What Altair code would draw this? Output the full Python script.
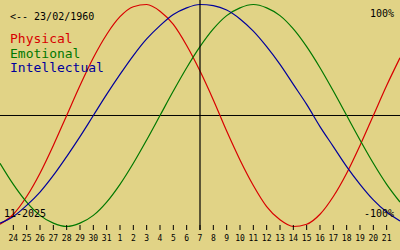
import altair as alt
import pandas as pd

# ---- data ----
day_labels = ["24", "25", "26", "27", "28", "29", "30", "31",
              "1", "2", "3", "4", "5", "6", "7", "8", "9", "10",
              "11", "12", "13", "14", "15", "16", "17", "18", "19", "20", "21"]
# curve samples: one per day from the day before "24" to the day after "21"
curve_days = list(range(-1, 30))
physical = [-98, -89, -73, -52, -27, 0, 27, 52, 73, 89, 98, 100, 94, 82, 63, 40,
            14, -14, -40, -63, -82, -94, -100, -98, -89, -73, -52, -27, 0, 27, 52]
emotional = [-43, -62, -78, -90, -97, -100, -97, -90, -78, -62, -43, -22, 0, 22, 43, 62,
             78, 90, 97, 100, 97, 90, 78, 62, 43, 22, 0, -22, -43, -62, -78]
intellectual = [-97, -91, -81, -69, -54, -37, -19, 0, 19, 37, 54, 69, 81, 91, 97, 100,
                99, 95, 87, 76, 62, 46, 28, 10, -10, -28, -46, -62, -76, -87, -95]
series_names = ["Physical", "Emotional", "Intellectual"]
series_colors = ["#D80000", "#007800", "#00009C"]
today_index = 14
birth_text = "<-- 23/02/1960"
month_text = "11-2025"
top_text = "100%"
bottom_text = "-100%"

MONO = "DejaVu Sans Mono"
BG = "#E1D386"

xs = alt.Scale(domain=[-1, 29], nice=False, zero=False)
ys = alt.Scale(domain=[-121.17, 104.05], nice=False, zero=False)

rows = []
for name, vals in zip(series_names, [physical, emotional, intellectual]):
    for d, v in zip(curve_days, vals):
        rows.append({"i": d, "v": v, "series": name})
curves_df = pd.DataFrame(rows)
days_df = pd.DataFrame({"i": list(range(len(day_labels))), "label": day_labels})
one = pd.DataFrame({"a": [0]})

hline = alt.Chart(pd.DataFrame({"v": [0]})).mark_rule(color="black", strokeWidth=1).encode(
    y=alt.Y("v:Q", scale=ys, axis=None))

curves = alt.Chart(curves_df).mark_line(strokeWidth=1.2, interpolate="monotone", clip=True).encode(
    x=alt.X("i:Q", scale=xs, axis=None),
    y=alt.Y("v:Q", scale=ys, axis=None),
    color=alt.Color("series:N", scale=alt.Scale(domain=series_names, range=series_colors), legend=None),
    detail="series:N",
)

vline = alt.Chart(pd.DataFrame({"i": [today_index]})).mark_rule(color="black", strokeWidth=1.2).encode(
    x=alt.X("i:Q", scale=xs, axis=None), y=alt.value(0), y2=alt.value(230))

ticks = alt.Chart(days_df).mark_rule(color="black", strokeWidth=1).encode(
    x=alt.X("i:Q", scale=xs, axis=None), y=alt.value(225), y2=alt.value(230))

tick_labels = alt.Chart(days_df).mark_text(font=MONO, fontSize=8, align="center",
                                           baseline="alphabetic", color="black").encode(
    x=alt.X("i:Q", scale=xs, axis=None), y=alt.value(241), text="label:N")

def label(text, x, y, size, color, align="left"):
    return alt.Chart(one).mark_text(text=text, font=MONO, fontSize=size, align=align,
                                    baseline="alphabetic", color=color).encode(
        x=alt.value(x), y=alt.value(y))

texts = [
    label(birth_text, 10, 20, 10, "black"),
    label(series_names[0], 10, 43, 13, series_colors[0]),
    label(series_names[1], 10, 57.5, 13, series_colors[1]),
    label(series_names[2], 10, 72, 13, series_colors[2]),
    label(top_text, 394, 17, 10, "black", "right"),
    label(bottom_text, 394, 217, 10, "black", "right"),
    label(month_text, 4, 217, 10, "black"),
]

chart = alt.layer(hline, curves, vline, ticks, tick_labels, *texts).properties(
    width=400, height=250, background=BG, padding=0,
    autosize=alt.AutoSizeParams(type="none"),
).configure_view(stroke=None)

chart.save("out.html", embed_options={"renderer": "svg", "actions": False})
